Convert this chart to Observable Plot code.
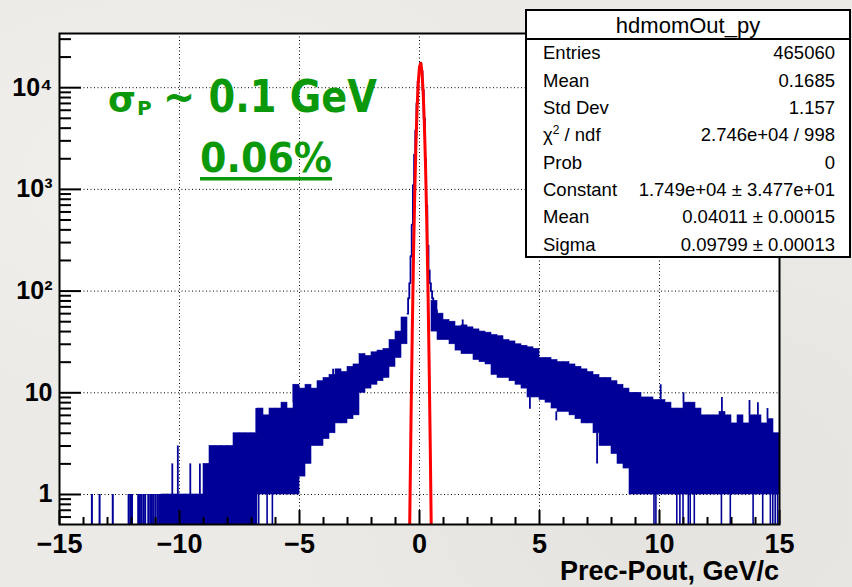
<!DOCTYPE html>
<html><head><meta charset="utf-8">
<script src="https://cdn.jsdelivr.net/npm/d3@7"></script>
<script src="https://cdn.jsdelivr.net/npm/@observablehq/plot@0.6"></script>
<style>
html,body{margin:0;padding:0;background:#ebeae6;}
#chart{position:relative;width:852px;height:587px;overflow:hidden;
 background: radial-gradient(ellipse at 20% 30%, #f1f0ed 0%, rgba(241,240,237,0) 40%),
             radial-gradient(ellipse at 80% 85%, #e4e3df 0%, rgba(228,227,223,0) 45%),
             #ebeae6;}
</style></head><body><div id="chart"></div>
<script>
// ---------- data ----------
const binWidth = 0.25;
// left tail: bin left edges, upper and lower envelope of the noisy histogram
const leftEdges = [-10.75,-10.5,-10.25,-10,-9.75,-9.5,-9.25,-9,-8.75,-8.5,-8.25,-8,-7.75,-7.5,-7.25,-7,-6.75,-6.5,-6.25,-6,-5.75,-5.5,-5.25,-5,-4.75,-4.5,-4.25,-4,-3.75,-3.5,-3.25,-3,-2.75,-2.5,-2.25,-2,-1.75,-1.5,-1.25,-1,-0.75];
const leftHi = [1,1,1,1,1,1,1,2,3,3,3,3,4,4,4,4,7,6,7,7,8,7,12,11,12,11,13,14,15,17,16,18,19,24,23,25,26,27,33,40,55];
const leftLo = [0.5,0.5,0.5,0.5,0.5,0.5,0.5,0.5,0.5,0.5,0.5,0.5,0.5,0.5,0.5,0.5,1,1,1,1,1,1,1,1.5,2,3,3,3.5,4,5,5,5.5,6,10,11,12,13,14,18,22,30];
// right tail
const rightEdges = [0.5,0.75,1,1.25,1.5,1.75,2,2.25,2.5,2.75,3,3.25,3.5,3.75,4,4.25,4.5,4.75,5,5.25,5.5,5.75,6,6.25,6.5,6.75,7,7.25,7.5,7.75,8,8.25,8.5,8.75,9,9.25,9.5,9.75,10,10.25,10.5,10.75,11,11.25,11.5,11.75,12,12.25,12.5,12.75,13,13.25,13.5,13.75,14,14.25,14.5,14.75];
const rightHi = [80,60,52,50,45,46,44,42,40,39,37,36,33,32,30,29,28,27,22,22,21,20,20,19,18,17,16,15,14,14,13,12,11,10,10,9,9,8.5,8.5,8,7,7,8,8,7,6,6,6,6.5,6,5,6,5,6,6,5,5.5,4];
const rightLo = [40,33,33,30,26,24,24,21,20,19,15,14,14,13,12,11,9,9,8.5,8,7,6.5,6.5,6,5.5,5,5,4,3,3,2.5,2,1.8,1,1,1,1,1,1,1,1,1,1,1,1,1,1,1,1,1,1,1,1,1,1,1,1,1];
// isolated single-entry bins in the far left tail
const singleX = [-13.65,-13.33,-12.78,-12.12,-12.05,-11.98,-11.72,-11.65,-11.58,-11.5,-11.43,-11.3,-11.22,-11.15,-11.08,-11,-10.92,-10.85,-10.78];
// bins that drop to zero inside the tails
const zeroX = [-6.7,-6.35,-6.13,9.77,9.85,10.72,10.85,10.98,11.2,11.28,11.45,12.58,12.95,13.9,14.3,14.62,14.72,14.82,14.92];
// individual spikes: x, from, to
const spikeX    = [-10.3,-10.07,-9.55,-9.15,-6.8,-5.25,-3.6,1.8,4.6,5.7,7.4,10.05,11.0,12.6,13.75,14.1,14.5];
const spikeFrom = [1,1,1,1,4,8,15,45,9,6.5,4,8.5,8,6,6,6,5.5];
const spikeTo   = [2,3,2,2,7,12,17,52,6.9,5.3,2,12,10,9,8.4,8,7];
// peak core (bin centres, counts)
const coreX = [-0.5,-0.45,-0.4,-0.35,-0.3,-0.25,-0.2,-0.15,-0.1,-0.05,0,0.05,0.1,0.15,0.2,0.25,0.3,0.35,0.4,0.45,0.5,0.55,0.6,0.65,0.7,0.75];
const coreY = [60,85,120,220,450,1100,2200,3800,7000,11500,16000,17500,14500,9500,5000,2000,700,280,160,120,100,85,78,70,65,60];
// fitted gaussian as drawn (red)
const fitX = [-0.45,-0.4,-0.35,-0.3,-0.25,-0.2,-0.15,-0.1,-0.05,0,0.05,0.1,0.15,0.2,0.25,0.3,0.35,0.4,0.45,0.5];
const fitY = [0.065,0.73,6.3,42,219,871,2670,6300,11470,16090,17400,14500,9300,4610,1760,518,117,20.5,2.8,0.29];
// axes
const xMajor = [-15,-10,-5,0,5,10,15];
const xMinor = [-14,-13,-12,-11,-9,-8,-7,-6,-4,-3,-2,-1,1,2,3,4,6,7,8,9,11,12,13,14];
const xGrid = [-10,-5,0,5,10];
const yMajor = [1,10,100,1000,10000];
const yTickLabels = ["1","10","10²","10³","10⁴"];
const yMinor = [0.6,0.7,0.8,0.9,2,3,4,5,6,7,8,9,20,30,40,50,60,70,80,90,200,300,400,500,600,700,800,900,2000,3000,4000,5000,6000,7000,8000,9000,20000,30000];
// stats box
const statTitle = "hdmomOut_py";
const statLabels = ["Entries","Mean","Std Dev","χ2 / ndf","Prob","Constant","Mean","Sigma"];
const statValues = ["465060","0.1685","1.157","2.746e+04 / 998","0","1.749e+04 ± 3.477e+01","0.04011 ± 0.00015","0.09799 ± 0.00013"];
const xTitle = "Prec-Pout, GeV/c";

// ---------- build tables ----------
const band = leftEdges.map((e,i)=>({x1:e, x2:e+binWidth, lo:leftLo[i], hi:leftHi[i]}))
  .concat(rightEdges.map((e,i)=>({x1:e, x2:e+binWidth, lo:rightLo[i], hi:rightHi[i]})));
const spikes = spikeX.map((x,i)=>({x, y1:spikeFrom[i], y2:spikeTo[i]}));
const core = coreX.map((x,i)=>({x, y:coreY[i]}));
const fit = fitX.map((x,i)=>({x, y:fitY[i]}));
const blue = "#000099";

const plot = Plot.plot({
  width: 852, height: 587,
  marginLeft: 59, marginRight: 73, marginTop: 33, marginBottom: 63,
  x: {domain: [-15, 15], label: null},
  y: {type: "log", domain: [0.507, 34100], label: null},
  style: {background: "transparent", fontFamily: "'Liberation Sans', Arial, sans-serif", overflow: "visible", color: "black"},
  marks: [
    Plot.frame({fill: "white", stroke: "none"}),
    Plot.gridX({ticks: xGrid, stroke: "black", strokeOpacity: 1, strokeWidth: 1, strokeDasharray: "1,2.5"}),
    Plot.gridY({ticks: yMajor, stroke: "black", strokeOpacity: 1, strokeWidth: 1, strokeDasharray: "1,2.5"}),
    Plot.rect(band, {x1: "x1", x2: "x2", y1: "lo", y2: "hi", fill: blue, stroke: blue, strokeWidth: 0.6, clip: true}),
    Plot.ruleX(singleX, {x: d => d, y1: 0.5, y2: 1, stroke: blue, strokeWidth: 2, clip: true}),
    Plot.ruleX(zeroX, {x: d => d, y1: 0.5, y2: 1, stroke: blue, strokeWidth: 1.6, clip: true}),
    Plot.ruleX(spikes, {x: "x", y1: "y1", y2: "y2", stroke: blue, strokeWidth: 1.8, clip: true}),
    Plot.line(core, {x: "x", y: "y", curve: "step", stroke: blue, strokeWidth: 1.8, clip: true}),
    Plot.line(fit, {x: "x", y: "y", stroke: "#ff0000", strokeWidth: 3, clip: true}),
    Plot.axisX({ticks: xMajor, tickSize: -14, tickFormat: () => "", strokeWidth: 2, label: null}),
    Plot.axisX({ticks: xMinor, tickSize: -7, tickFormat: () => "", strokeWidth: 2, label: null}),
    Plot.axisY({ticks: yMajor, tickSize: -22, tickFormat: () => "", strokeWidth: 2, label: null}),
    Plot.axisY({ticks: yMinor, tickSize: -12, tickFormat: () => "", strokeWidth: 2, label: null}),
    Plot.frame({stroke: "black", strokeWidth: 2}),
    Plot.axisX({ticks: xMajor, tickSize: 0, tickPadding: 9, fontSize: 27, fontWeight: "bold", label: null}),
    Plot.axisY({ticks: yMajor, tickSize: 0, tickPadding: 7, fontSize: 25, fontWeight: "bold", label: null,
                tickFormat: d => yTickLabels[yMajor.indexOf(d)]})
  ]
});
document.getElementById("chart").appendChild(plot);

const svg = d3.select(plot);
// axis title
svg.append("text").attr("x", 779).attr("y", 580).attr("text-anchor", "end")
  .attr("font-size", 27).attr("font-weight", "bold").attr("fill", "black").text(xTitle);

// green annotation
const green = "#0b990b";
const ann = svg.append("g").attr("fill", green).attr("font-family", "'DejaVu Sans', sans-serif")
  .attr("font-weight", "bold").attr("text-anchor", "start");
ann.append("text").attr("x", 108).attr("y", 112).attr("font-size", 36).text("σ");
ann.append("text").attr("x", 137).attr("y", 115).attr("font-size", 20).text("P");
ann.append("text").attr("x", 163).attr("y", 112).attr("font-size", 44)
  .attr("textLength", 214).attr("lengthAdjust", "spacingAndGlyphs").text("~ 0.1 GeV");
ann.append("text").attr("x", 200).attr("y", 172).attr("font-size", 40)
  .attr("textLength", 132).attr("lengthAdjust", "spacingAndGlyphs").text("0.06%");
ann.append("rect").attr("x", 200).attr("y", 177).attr("width", 132).attr("height", 3.5);

// stats box
const sb = svg.append("g").attr("font-family", "'Liberation Sans', Arial, sans-serif")
  .attr("font-weight", "normal").attr("fill", "black").attr("text-anchor", "start");
sb.append("rect").attr("x", 526).attr("y", 10).attr("width", 324).attr("height", 247)
  .attr("fill", "white").attr("stroke", "black").attr("stroke-width", 2);
sb.append("line").attr("x1", 526).attr("x2", 850).attr("y1", 39).attr("y2", 39)
  .attr("stroke", "black").attr("stroke-width", 2);
sb.append("text").attr("x", 688).attr("y", 25).attr("dy", "0.35em").attr("text-anchor", "middle")
  .attr("font-size", 22).text(statTitle);
statLabels.forEach((lab, i) => {
  const y = 53 + i * 27.3;
  const t = sb.append("text").attr("x", 543).attr("y", y).attr("dy", "0.35em").attr("font-size", 18.5);
  if (lab.startsWith("χ2")) {
    t.append("tspan").text("χ");
    t.append("tspan").attr("dy", -7).attr("font-size", 12).text("2");
    t.append("tspan").attr("dy", 7).text(lab.slice(2));
  } else t.text(lab);
  sb.append("text").attr("x", 835).attr("y", y).attr("dy", "0.35em").attr("text-anchor", "end")
    .attr("font-size", 18.5).text(statValues[i]);
});
</script></body></html>
